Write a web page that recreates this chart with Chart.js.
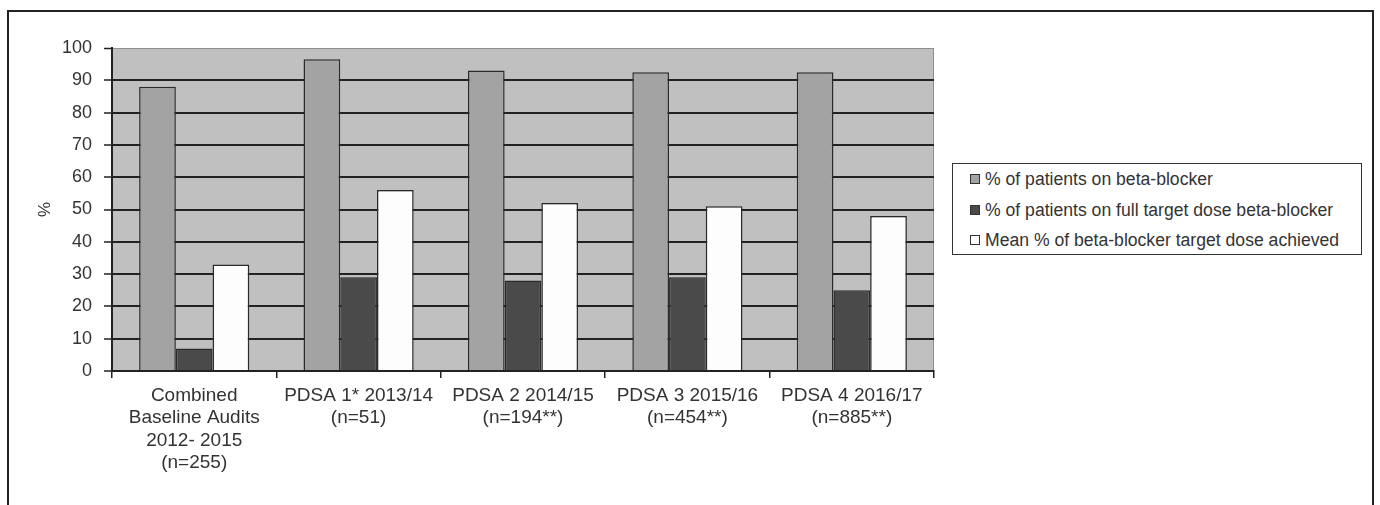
<!DOCTYPE html>
<html>
<head>
<meta charset="utf-8">
<script src="https://cdn.jsdelivr.net/npm/chart.js@4/dist/chart.umd.min.js"></script>
<style>
  html, body { margin: 0; padding: 0; background: #fff; overflow: hidden; }
  #wrap { position: relative; width: 1380px; height: 505px; }
  #frame { position: absolute; left: 7px; top: 10px; width: 1363px; height: 600px;
           border: 2px solid #222; border-bottom: none; }
  #chart { position: absolute; left: 0; top: 0; }
  #legend { position: absolute; left: 952px; top: 163px; width: 408px; height: 90px;
            border: 1.5px solid #333; background: #fff;
            font-family: "Liberation Sans", Arial, sans-serif; font-size: 17.6px; color: #333; }
  #legend .row { height: 30.5px; line-height: 30.5px; display: flex; align-items: center; padding-left: 17px; }
  #legend .sw { width: 8px; height: 8px; border: 1px solid #333; margin-right: 5px; flex: none; }
</style>
</head>
<body>
<div id="wrap">
  <div id="frame"></div>
  <canvas id="chart" width="1380" height="505"></canvas>
  <div id="legend"></div>
</div>
<script>
// Audit cycles on the category axis (multi-line labels)
const categories = [
  ["Combined", "Baseline Audits", "2012- 2015", "(n=255)"],
  ["PDSA 1* 2013/14", "(n=51)"],
  ["PDSA 2 2014/15", "(n=194**)"],
  ["PDSA 3 2015/16", "(n=454**)"],
  ["PDSA 4 2016/17", "(n=885**)"]
];

// Series values, in %
const onBetaBlocker = [88, 96.5, 93, 92.5, 92.5];
const onFullTargetDose = [7, 29, 28, 29, 25];
const meanTargetDoseAchieved = [33, 56, 52, 51, 48];

const seriesNames = [
  "% of patients on beta-blocker",
  "% of patients on full target dose beta-blocker",
  "Mean % of beta-blocker target dose achieved"
];

const yTicks = [0, 10, 20, 30, 40, 50, 60, 70, 80, 90, 100];

const FONT = '"Liberation Sans", Arial, sans-serif';
const INK = '#222';
const TEXT = '#333';
const fills = ['#a3a3a3', '#4a4a4a', '#fdfdfd'];

// Grey plot background with a light border, drawn beneath the grid
const plotBackground = {
  id: 'plotBackground',
  beforeDraw(chart) {
    const { ctx, chartArea: a } = chart;
    ctx.save();
    ctx.fillStyle = '#c0c0c0';
    ctx.fillRect(a.left, a.top, a.right - a.left, a.bottom - a.top);
    ctx.strokeStyle = '#8f8f8f';
    ctx.lineWidth = 1;
    ctx.strokeRect(a.left + 0.5, a.top + 0.5, a.right - a.left - 1, a.bottom - a.top);
    ctx.restore();
  }
};

const datasets = [onBetaBlocker, onFullTargetDose, meanTargetDoseAchieved].map((d, i) => ({
  label: seriesNames[i],
  data: d,
  backgroundColor: fills[i],
  borderColor: '#2a2a2a',
  borderWidth: 1.5,
  borderSkipped: 'bottom',
  categoryPercentage: 0.67,
  barPercentage: 1.0
}));

const chart = new Chart(document.getElementById('chart'), {
  type: 'bar',
  data: { labels: categories, datasets },
  plugins: [plotBackground],
  options: {
    responsive: false,
    animation: false,
    events: [],
    layout: { padding: { left: 0, top: 48, right: 446, bottom: 0 } },
    plugins: { legend: { display: false }, tooltip: { enabled: false } },
    scales: {
      x: {
        afterFit(scale) { scale.height = 134; },
        grid: { display: true, drawOnChartArea: false, drawTicks: true, tickLength: 7,
                offset: true, color: INK, lineWidth: 1.5 },
        border: { display: true, color: INK, width: 2 },
        ticks: { color: TEXT, padding: 6, maxRotation: 0, autoSkip: false,
                 font: { family: FONT, size: 19, lineHeight: 1.19 } }
      },
      y: {
        min: 0,
        max: 100,
        afterFit(scale) { scale.width = 112; },
        afterBuildTicks(scale) { scale.ticks = yTicks.map(v => ({ value: v })); },
        grid: {
          color: c => (c.tick && c.tick.value === 100 ? '#8f8f8f' : INK),
          lineWidth: c => (c.tick && c.tick.value === 100 ? 1 : 2),
          tickColor: INK,
          tickWidth: 1.5,
          tickLength: 8,
          drawTicks: true
        },
        border: { display: true, color: INK, width: 2 },
        ticks: { color: TEXT, padding: 12, font: { family: FONT, size: 18 } },
        title: { display: true, text: '%', color: TEXT, padding: { top: 35 },
                 font: { family: FONT, size: 17 } }
      }
    }
  }
});

// Legend box built from the dataset labels and colours
const legend = document.getElementById('legend');
chart.data.datasets.forEach(ds => {
  const row = document.createElement('div');
  row.className = 'row';
  const sw = document.createElement('span');
  sw.className = 'sw';
  sw.style.background = ds.backgroundColor;
  const txt = document.createElement('span');
  txt.textContent = ds.label;
  row.appendChild(sw);
  row.appendChild(txt);
  legend.appendChild(row);
});
</script>
</body>
</html>
